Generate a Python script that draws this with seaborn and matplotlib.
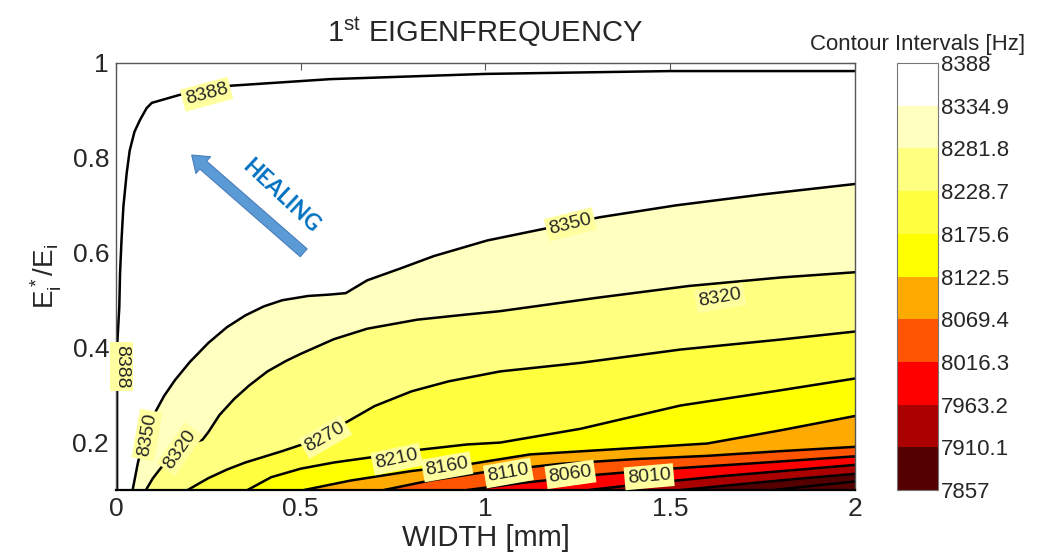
"""1st eigenfrequency contour map (width vs. stiffness ratio)."""

import matplotlib

matplotlib.use("Agg")
import matplotlib.pyplot as plt
from matplotlib.cm import ScalarMappable
from matplotlib.colors import BoundaryNorm, ListedColormap
from matplotlib.patches import FancyArrowPatch
import seaborn as sns

# colour bar intervals [Hz] and the colours of each interval (low -> high)
CBAR_BOUNDS = [7857, 7910.1, 7963.2, 8016.3, 8069.4, 8122.5, 8175.6, 8228.7, 8281.8, 8334.9, 8388]
CBAR_LABELS = ["7857", "7910.1", "7963.2", "8016.3", "8069.4", "8122.5",
               "8175.6", "8228.7", "8281.8", "8334.9", "8388"]
BAND_COLORS = ["#550000", "#aa0000", "#ff0000", "#ff5500", "#ffaa00",
               "#ffff00", "#ffff40", "#ffff80", "#ffffbf", "#ffffff"]

# contour lines: width [mm] and Ei*/Ei along each level
LINE_LEVELS = [8388, 8350, 8320, 8270, 8210, 8160, 8110, 8060, 8010, 7960, 7910]

X_8388 = [0.003, 0.003, 0.004, 0.009, 0.011, 0.015, 0.02, 0.029, 0.037, 0.05, 0.065, 0.083, 0.097, 0.173, 0.308, 0.58, 1.0, 1.5, 2.0]
Y_8388 = [0.1, 0.3, 0.416, 0.486, 0.557, 0.627, 0.697, 0.768, 0.815, 0.855, 0.88, 0.905, 0.916, 0.933, 0.952, 0.966, 0.977, 0.983, 0.983]

X_8350 = [0.045, 0.06, 0.08, 0.1, 0.13, 0.16, 0.2, 0.25, 0.3, 0.35, 0.4, 0.45, 0.52, 0.58, 0.622,
          0.68, 0.77, 0.86, 1.005, 1.18, 1.31, 1.516, 1.75, 2.0]
Y_8350 = [0.1, 0.16, 0.215, 0.255, 0.298, 0.332, 0.37, 0.41, 0.443, 0.468, 0.487, 0.5, 0.509, 0.512, 0.515,
          0.542, 0.567, 0.593, 0.626, 0.654, 0.675, 0.70, 0.723, 0.745]

X_8320 = [0.081, 0.1, 0.13, 0.17, 0.21, 0.234, 0.25, 0.28, 0.32, 0.36, 0.41, 0.46, 0.5, 0.59, 0.68,
          0.815, 0.95, 1.04, 1.3, 1.55, 1.8, 2.0]
Y_8320 = [0.1, 0.125, 0.155, 0.185, 0.2, 0.206, 0.222, 0.258, 0.292, 0.32, 0.35, 0.372, 0.387, 0.418, 0.44,
          0.459, 0.47, 0.477, 0.505, 0.53, 0.548, 0.559]

X_8270 = [0.194, 0.25, 0.3, 0.35, 0.4, 0.45, 0.5, 0.56, 0.626, 0.7, 0.8, 0.9, 1.04, 1.257, 1.527, 1.797, 2.0]
Y_8270 = [0.1, 0.125, 0.143, 0.158, 0.17, 0.182, 0.195, 0.218, 0.244, 0.277, 0.308, 0.329, 0.35, 0.368, 0.396, 0.417, 0.434]

X_8210 = [0.356, 0.42, 0.5, 0.59, 0.7, 0.824, 0.95, 1.04, 1.257, 1.527, 1.797, 2.0]
Y_8210 = [0.1, 0.127, 0.145, 0.158, 0.17, 0.185, 0.196, 0.2, 0.229, 0.278, 0.31, 0.335]

X_8160 = [0.509, 0.635, 0.8, 0.96, 1.12, 1.35, 1.6, 1.8, 2.0]
Y_8160 = [0.1, 0.12, 0.14, 0.155, 0.175, 0.186, 0.198, 0.226, 0.256]

X_8110 = [0.725, 0.85, 1.0, 1.2, 1.4, 1.6, 1.8, 2.0]
Y_8110 = [0.1, 0.12, 0.138, 0.155, 0.165, 0.172, 0.182, 0.191]

X_8060 = [0.95, 1.1, 1.3, 1.5, 1.7, 2.0]
Y_8060 = [0.1, 0.115, 0.132, 0.145, 0.155, 0.171]

X_8010 = [1.28, 1.45, 1.65, 1.85, 2.0]
Y_8010 = [0.1, 0.115, 0.13, 0.143, 0.153]

X_7960 = [1.53, 1.7, 1.85, 2.0]
Y_7960 = [0.1, 0.113, 0.124, 0.134]

X_7910 = [1.78, 1.9, 2.0]
Y_7910 = [0.1, 0.11, 0.118]

CONTOURS = {
    8388: (X_8388, Y_8388),
    8350: (X_8350, Y_8350),
    8320: (X_8320, Y_8320),
    8270: (X_8270, Y_8270),
    8210: (X_8210, Y_8210),
    8160: (X_8160, Y_8160),
    8110: (X_8110, Y_8110),
    8060: (X_8060, Y_8060),
    8010: (X_8010, Y_8010),
    7960: (X_7960, Y_7960),
    7910: (X_7910, Y_7910),
}

# inline contour labels
LABEL_TEXT = ["8388", "8388", "8350", "8350", "8320", "8320", "8270", "8210", "8160", "8110", "8060", "8010"]
LABEL_X = [0.245, 0.016, 0.084, 1.23, 0.173, 1.635, 0.566, 0.76, 0.896, 1.062, 1.23, 1.443]
LABEL_Y = [0.934, 0.36, 0.216, 0.66, 0.186, 0.505, 0.212, 0.165, 0.149, 0.136, 0.133, 0.128]
LABEL_ROT = [15, -90, 80, 14, 55, 10, 30, 12, 10, 10, 8, 5]

X_TICKS = [0, 0.5, 1, 1.5, 2]
X_TICK_LABELS = ["0", "0.5", "1", "1.5", "2"]
Y_TICKS = [0.2, 0.4, 0.6, 0.8, 1.0]
Y_TICK_LABELS = ["0.2", "0.4", "0.6", "0.8", "1"]
X_LIM = (0, 2)
Y_LIM = (0.1, 1)

ARROW_TAIL = (0.508, 0.6)
ARROW_HEAD = (0.205, 0.806)

sns.set_style("white")
plt.rcParams["font.family"] = ["Liberation Sans", "DejaVu Sans"]
plt.rcParams["mathtext.fontset"] = "custom"
plt.rcParams["mathtext.rm"] = "Liberation Sans"
plt.rcParams["mathtext.it"] = "Liberation Sans"


def main() -> None:
    fig = plt.figure(figsize=(10.43, 5.59), dpi=100)
    ax = fig.add_axes([0.1112, 0.1234, 0.7085, 0.7639])
    cax = fig.add_axes([0.860, 0.1234, 0.0393, 0.7639])

    cmap = ListedColormap(BAND_COLORS)
    norm = BoundaryNorm(CBAR_BOUNDS, cmap.N)

    # filled bands: paint the region below each line, highest level first
    for i, level in enumerate(LINE_LEVELS):
        xs, ys = CONTOURS[level]
        below = LINE_LEVELS[i + 1] if i + 1 < len(LINE_LEVELS) else CBAR_BOUNDS[0]
        color = cmap(int(norm(below)))
        ax.fill(list(xs) + [X_LIM[1]], list(ys) + [Y_LIM[0]], color=color, lw=0, zorder=1)

    for level in LINE_LEVELS:
        xs, ys = CONTOURS[level]
        sns.lineplot(x=xs, y=ys, sort=False, estimator=None, color="black",
                     lw=1.8, ax=ax, zorder=2)

    for text, x, y, rot in zip(LABEL_TEXT, LABEL_X, LABEL_Y, LABEL_ROT):
        ax.text(x, y, text, rotation=rot, ha="center", va="center", fontsize=14,
                rotation_mode="anchor", zorder=4,
                bbox=dict(boxstyle="square,pad=0.15", fc="#ffffa0", ec="none"))

    arrow = FancyArrowPatch(ARROW_TAIL, ARROW_HEAD,
                            arrowstyle="simple,head_width=16,head_length=11,tail_width=7.5",
                            mutation_scale=1, fc="#5b9bd5", ec="#4a7ebb", lw=0.8,
                            shrinkA=0, shrinkB=0, zorder=5)
    ax.add_patch(arrow)
    ax.text(0.447, 0.72, "HEALING", rotation=-43, ha="center", va="center",
            fontsize=16, fontweight="bold", color="#0070c0", family=["Lato", "DejaVu Sans"],
            rotation_mode="anchor", zorder=5)

    ax.set_xlim(*X_LIM)
    ax.set_ylim(*Y_LIM)
    ax.set_xticks(X_TICKS, X_TICK_LABELS)
    ax.set_yticks(Y_TICKS, Y_TICK_LABELS)
    ax.tick_params(direction="in", length=5, width=0.8, top=True, right=True,
                   labelsize=19, pad=5, color="#555555")
    for side, spine in ax.spines.items():
        spine.set_zorder(3)
        if side == "bottom":
            spine.set_color("black")
            spine.set_linewidth(1.6)
        else:
            spine.set_color("#555555")
            spine.set_linewidth(1.0)
    ax.set_xlabel("WIDTH [mm]", fontsize=21, labelpad=2)
    ax.set_ylabel(r"$\mathregular{E_i^*/E_i}$", fontsize=20, labelpad=6)
    ax.set_title(r"1$^{\mathregular{st}}$ EIGENFREQUENCY", fontsize=21, pad=15)

    cb = fig.colorbar(ScalarMappable(norm=norm, cmap=cmap), cax=cax, ticks=CBAR_BOUNDS)
    cb.ax.set_yticklabels(CBAR_LABELS)
    cb.outline.set_edgecolor("#777777")
    cb.outline.set_linewidth(0.8)
    cax.tick_params(labelsize=16, length=3, direction="in", left=True, right=True,
                    color="#777777", pad=2)
    cax.set_title("Contour Intervals [Hz]", fontsize=16, pad=9)

    fig.savefig("out.png", dpi=100)
    plt.close(fig)


if __name__ == "__main__":
    main()
